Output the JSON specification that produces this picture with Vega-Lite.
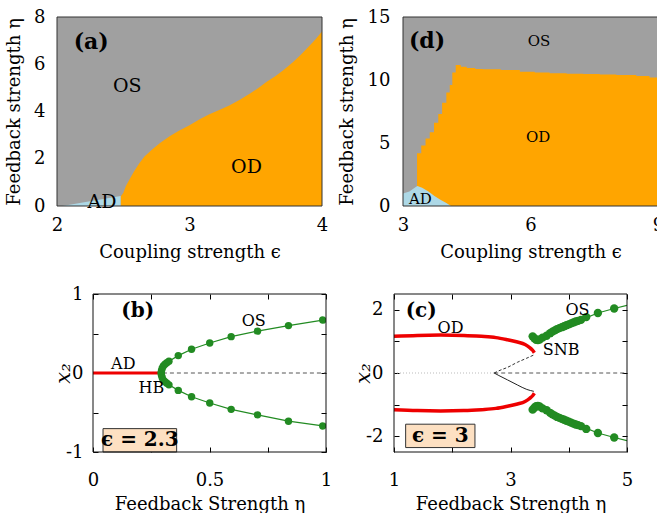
{
  "$schema": "https://vega.github.io/schema/vega-lite/v6.json",
  "padding": {"top": 8, "left": 5, "right": 0, "bottom": 0},
  "background": "white",
  "config": {
    "font": "DejaVu Serif",
    "view": {"stroke": null},
    "axis": {
      "grid": false,
      "domain": false,
      "labelFont": "DejaVu Serif",
      "titleFont": "DejaVu Serif",
      "labelFontSize": 18,
      "titleFontSize": 18,
      "titleFontWeight": "normal",
      "labelColor": "#000",
      "titleColor": "#000",
      "tickColor": "#000",
      "labelFlush": false,
      "labelOverlap": false,
      "labelBound": false,
      "format": "~g"
    },
    "text": {"font": "DejaVu Serif", "color": "#000"}
  },
  "datasets": {
    "a_frame": [{"eps": 2, "eps2": 4, "eta": 0, "eta2": 8}],
    "a_od": [
      {"eps": 2.48, "eta": 0.40}, {"eps": 2.50, "eta": 0.55}, {"eps": 2.52, "eta": 0.85},
      {"eps": 2.55, "eta": 1.15}, {"eps": 2.58, "eta": 1.45}, {"eps": 2.62, "eta": 1.80},
      {"eps": 2.66, "eta": 2.10}, {"eps": 2.72, "eta": 2.40}, {"eps": 2.78, "eta": 2.68},
      {"eps": 2.85, "eta": 2.95}, {"eps": 2.92, "eta": 3.18}, {"eps": 3.00, "eta": 3.42},
      {"eps": 3.08, "eta": 3.68}, {"eps": 3.15, "eta": 3.88}, {"eps": 3.22, "eta": 4.05},
      {"eps": 3.30, "eta": 4.25}, {"eps": 3.38, "eta": 4.50}, {"eps": 3.46, "eta": 4.77},
      {"eps": 3.52, "eta": 5.00}, {"eps": 3.58, "eta": 5.25}, {"eps": 3.65, "eta": 5.50},
      {"eps": 3.71, "eta": 5.76}, {"eps": 3.78, "eta": 6.08}, {"eps": 3.84, "eta": 6.40},
      {"eps": 3.90, "eta": 6.75}, {"eps": 3.95, "eta": 7.05}, {"eps": 4.00, "eta": 7.39}
    ],
    "a_ad": [{"eps": 2.04, "eta": 0}, {"eps": 2.48, "eta": 0.42}],
    "a_tag": [{"label": "(a)", "eps": 2.126, "eta": 6.94}],
    "a_lab": [
      {"label": "OS", "eps": 2.53, "eta": 5.1},
      {"label": "OD", "eps": 3.43, "eta": 1.66},
      {"label": "AD", "eps": 2.34, "eta": 0.17}
    ],
    "d_frame": [{"eps": 3, "eps2": 9, "eta": 0, "eta2": 15}],
    "d_od": [
      {"eps": 3.33, "eta": 4.18}, {"eps": 3.43, "eta": 4.8}, {"eps": 3.53, "eta": 5.35},
      {"eps": 3.63, "eta": 5.85}, {"eps": 3.73, "eta": 6.6}, {"eps": 3.83, "eta": 7.3},
      {"eps": 3.92, "eta": 8.2}, {"eps": 4.02, "eta": 9.0}, {"eps": 4.10, "eta": 9.6},
      {"eps": 4.16, "eta": 10.6}, {"eps": 4.24, "eta": 11.2}, {"eps": 4.36, "eta": 11.05},
      {"eps": 4.50, "eta": 10.95}, {"eps": 4.70, "eta": 10.88}, {"eps": 4.88, "eta": 10.85},
      {"eps": 5.30, "eta": 10.8}, {"eps": 5.75, "eta": 10.66}, {"eps": 6.10, "eta": 10.6},
      {"eps": 6.45, "eta": 10.53}, {"eps": 6.85, "eta": 10.5}, {"eps": 7.24, "eta": 10.48},
      {"eps": 7.63, "eta": 10.44}, {"eps": 8.02, "eta": 10.4}, {"eps": 8.49, "eta": 10.32},
      {"eps": 8.80, "eta": 10.2}, {"eps": 9.0, "eta": 10.13}
    ],
    "d_ad": [
      {"eps": 3.0, "eta": 1.0}, {"eps": 3.15, "eta": 1.15}, {"eps": 3.30, "eta": 1.5},
      {"eps": 3.34, "eta": 1.59}, {"eps": 3.45, "eta": 1.45}, {"eps": 3.6, "eta": 1.15},
      {"eps": 3.74, "eta": 0.8}, {"eps": 3.88, "eta": 0.5}, {"eps": 4.01, "eta": 0.26},
      {"eps": 4.13, "eta": 0.0}
    ],
    "d_tag": [{"label": "(d)", "eps": 3.14, "eta": 13.06}],
    "d_lab": [
      {"label": "OS", "eps": 6.2, "eta": 13.1},
      {"label": "OD", "eps": 6.18, "eta": 5.44},
      {"label": "AD", "eps": 3.41, "eta": 0.53}
    ],
    "b_frame": [{"eta": 0, "eta2": 1, "x2": -1, "x2b": 1}],
    "b_os": [
      {"branch": "upper", "eta": 0.293, "x2": 0.0},
      {"branch": "upper", "eta": 0.294, "x2": 0.03}, {"branch": "upper", "eta": 0.297, "x2": 0.06},
      {"branch": "upper", "eta": 0.302, "x2": 0.09}, {"branch": "upper", "eta": 0.309, "x2": 0.11},
      {"branch": "upper", "eta": 0.317, "x2": 0.13}, {"branch": "upper", "eta": 0.326, "x2": 0.15},
      {"branch": "upper", "eta": 0.366, "x2": 0.22}, {"branch": "upper", "eta": 0.423, "x2": 0.30},
      {"branch": "upper", "eta": 0.501, "x2": 0.38}, {"branch": "upper", "eta": 0.593, "x2": 0.46},
      {"branch": "upper", "eta": 0.706, "x2": 0.53}, {"branch": "upper", "eta": 0.839, "x2": 0.60},
      {"branch": "upper", "eta": 0.986, "x2": 0.67},
      {"branch": "lower", "eta": 0.293, "x2": 0.0},
      {"branch": "lower", "eta": 0.294, "x2": -0.03}, {"branch": "lower", "eta": 0.297, "x2": -0.06},
      {"branch": "lower", "eta": 0.302, "x2": -0.09}, {"branch": "lower", "eta": 0.309, "x2": -0.11},
      {"branch": "lower", "eta": 0.317, "x2": -0.13}, {"branch": "lower", "eta": 0.326, "x2": -0.15},
      {"branch": "lower", "eta": 0.366, "x2": -0.22}, {"branch": "lower", "eta": 0.423, "x2": -0.30},
      {"branch": "lower", "eta": 0.501, "x2": -0.38}, {"branch": "lower", "eta": 0.593, "x2": -0.46},
      {"branch": "lower", "eta": 0.706, "x2": -0.53}, {"branch": "lower", "eta": 0.839, "x2": -0.61},
      {"branch": "lower", "eta": 0.986, "x2": -0.67}
    ],
    "b_osline": [
      {"branch": "upper", "eta": 0.293, "x2": 0.0}, {"branch": "upper", "eta": 0.297, "x2": 0.06},
      {"branch": "upper", "eta": 0.309, "x2": 0.11}, {"branch": "upper", "eta": 0.326, "x2": 0.15},
      {"branch": "upper", "eta": 0.366, "x2": 0.22}, {"branch": "upper", "eta": 0.423, "x2": 0.30},
      {"branch": "upper", "eta": 0.501, "x2": 0.38}, {"branch": "upper", "eta": 0.593, "x2": 0.46},
      {"branch": "upper", "eta": 0.706, "x2": 0.53}, {"branch": "upper", "eta": 0.839, "x2": 0.60},
      {"branch": "upper", "eta": 0.986, "x2": 0.67}, {"branch": "upper", "eta": 1.0, "x2": 0.675},
      {"branch": "lower", "eta": 0.293, "x2": 0.0}, {"branch": "lower", "eta": 0.297, "x2": -0.06},
      {"branch": "lower", "eta": 0.309, "x2": -0.11}, {"branch": "lower", "eta": 0.326, "x2": -0.15},
      {"branch": "lower", "eta": 0.366, "x2": -0.22}, {"branch": "lower", "eta": 0.423, "x2": -0.30},
      {"branch": "lower", "eta": 0.501, "x2": -0.38}, {"branch": "lower", "eta": 0.593, "x2": -0.46},
      {"branch": "lower", "eta": 0.706, "x2": -0.53}, {"branch": "lower", "eta": 0.839, "x2": -0.61},
      {"branch": "lower", "eta": 0.986, "x2": -0.67}, {"branch": "lower", "eta": 1.0, "x2": -0.675}
    ],
    "b_box": [{"eta": 0.043, "eta2": 0.359, "x2": -1.0, "x2b": -0.704}],
    "b_boxtext": [{"label": "ϵ = 2.3", "eta": 0.201, "x2": -0.852}],
    "b_zero": [{"eta": 0.3, "x2": 0}, {"eta": 1.0, "x2": 0}],
    "b_ad": [{"eta": 0.0, "x2": 0}, {"eta": 0.295, "x2": 0}],
    "b_tag": [{"label": "(b)", "eta": 0.121, "x2": 0.79}],
    "b_lab": [
      {"label": "OS", "eta": 0.69, "x2": 0.66},
      {"label": "AD", "eta": 0.13, "x2": 0.11},
      {"label": "HB", "eta": 0.251, "x2": -0.184}
    ],
    "c_frame": [{"eta": 1, "eta2": 5, "x2": -2.5, "x2b": 2.5}],
    "c_od": [
      {"branch": "upper", "eta": 1.0, "x2": 1.16}, {"branch": "upper", "eta": 1.4, "x2": 1.19},
      {"branch": "upper", "eta": 1.8, "x2": 1.2}, {"branch": "upper", "eta": 2.2, "x2": 1.19},
      {"branch": "upper", "eta": 2.5, "x2": 1.16}, {"branch": "upper", "eta": 2.75, "x2": 1.12},
      {"branch": "upper", "eta": 2.95, "x2": 1.05}, {"branch": "upper", "eta": 3.12, "x2": 0.98},
      {"branch": "upper", "eta": 3.25, "x2": 0.9}, {"branch": "upper", "eta": 3.33, "x2": 0.8},
      {"branch": "upper", "eta": 3.38, "x2": 0.72}, {"branch": "upper", "eta": 3.41, "x2": 0.64},
      {"branch": "lower", "eta": 1.0, "x2": -1.16}, {"branch": "lower", "eta": 1.4, "x2": -1.19},
      {"branch": "lower", "eta": 1.8, "x2": -1.2}, {"branch": "lower", "eta": 2.2, "x2": -1.19},
      {"branch": "lower", "eta": 2.5, "x2": -1.16}, {"branch": "lower", "eta": 2.75, "x2": -1.12},
      {"branch": "lower", "eta": 2.95, "x2": -1.05}, {"branch": "lower", "eta": 3.12, "x2": -0.98},
      {"branch": "lower", "eta": 3.25, "x2": -0.9}, {"branch": "lower", "eta": 3.33, "x2": -0.8},
      {"branch": "lower", "eta": 3.38, "x2": -0.72}, {"branch": "lower", "eta": 3.41, "x2": -0.64}
    ],
    "c_unstable_up": [
      {"eta": 2.72, "x2": 0}, {"eta": 2.8, "x2": 0.07}, {"eta": 2.95, "x2": 0.18},
      {"eta": 3.12, "x2": 0.34}, {"eta": 3.28, "x2": 0.47}, {"eta": 3.40, "x2": 0.57}
    ],
    "c_unstable_lo": [
      {"eta": 2.72, "x2": 0}, {"eta": 2.8, "x2": -0.08}, {"eta": 2.95, "x2": -0.22},
      {"eta": 3.12, "x2": -0.38}, {"eta": 3.28, "x2": -0.52}, {"eta": 3.40, "x2": -0.58}
    ],
    "c_os": [
      {"branch": "upper", "eta": 3.38, "x2": 1.16}, {"branch": "upper", "eta": 3.41, "x2": 1.10},
      {"branch": "upper", "eta": 3.44, "x2": 1.05}, {"branch": "upper", "eta": 3.47, "x2": 1.04},
      {"branch": "upper", "eta": 3.50, "x2": 1.06}, {"branch": "upper", "eta": 3.55, "x2": 1.12},
      {"branch": "upper", "eta": 3.62, "x2": 1.18}, {"branch": "upper", "eta": 3.68, "x2": 1.26},
      {"branch": "upper", "eta": 3.72, "x2": 1.31}, {"branch": "upper", "eta": 3.76, "x2": 1.35},
      {"branch": "upper", "eta": 3.80, "x2": 1.39}, {"branch": "upper", "eta": 3.84, "x2": 1.42},
      {"branch": "upper", "eta": 3.88, "x2": 1.45}, {"branch": "upper", "eta": 3.92, "x2": 1.48},
      {"branch": "upper", "eta": 3.96, "x2": 1.51}, {"branch": "upper", "eta": 4.00, "x2": 1.54},
      {"branch": "upper", "eta": 4.04, "x2": 1.57}, {"branch": "upper", "eta": 4.08, "x2": 1.60},
      {"branch": "upper", "eta": 4.12, "x2": 1.63}, {"branch": "upper", "eta": 4.16, "x2": 1.65},
      {"branch": "upper", "eta": 4.21, "x2": 1.68}, {"branch": "upper", "eta": 4.30, "x2": 1.77},
      {"branch": "upper", "eta": 4.50, "x2": 1.90}, {"branch": "upper", "eta": 4.78, "x2": 2.04},
      {"branch": "lower", "eta": 3.38, "x2": -1.16}, {"branch": "lower", "eta": 3.41, "x2": -1.10},
      {"branch": "lower", "eta": 3.44, "x2": -1.05}, {"branch": "lower", "eta": 3.47, "x2": -1.04},
      {"branch": "lower", "eta": 3.50, "x2": -1.06}, {"branch": "lower", "eta": 3.55, "x2": -1.12},
      {"branch": "lower", "eta": 3.62, "x2": -1.18}, {"branch": "lower", "eta": 3.68, "x2": -1.26},
      {"branch": "lower", "eta": 3.72, "x2": -1.31}, {"branch": "lower", "eta": 3.76, "x2": -1.35},
      {"branch": "lower", "eta": 3.80, "x2": -1.39}, {"branch": "lower", "eta": 3.84, "x2": -1.42},
      {"branch": "lower", "eta": 3.88, "x2": -1.45}, {"branch": "lower", "eta": 3.92, "x2": -1.48},
      {"branch": "lower", "eta": 3.96, "x2": -1.51}, {"branch": "lower", "eta": 4.00, "x2": -1.54},
      {"branch": "lower", "eta": 4.04, "x2": -1.57}, {"branch": "lower", "eta": 4.08, "x2": -1.60},
      {"branch": "lower", "eta": 4.12, "x2": -1.63}, {"branch": "lower", "eta": 4.16, "x2": -1.65},
      {"branch": "lower", "eta": 4.21, "x2": -1.68}, {"branch": "lower", "eta": 4.30, "x2": -1.77},
      {"branch": "lower", "eta": 4.50, "x2": -1.90}, {"branch": "lower", "eta": 4.78, "x2": -2.04}
    ],
    "c_osline": [
      {"branch": "upper", "eta": 3.38, "x2": 1.16}, {"branch": "upper", "eta": 3.44, "x2": 1.05},
      {"branch": "upper", "eta": 3.50, "x2": 1.06}, {"branch": "upper", "eta": 3.62, "x2": 1.18},
      {"branch": "upper", "eta": 3.80, "x2": 1.39}, {"branch": "upper", "eta": 4.00, "x2": 1.54},
      {"branch": "upper", "eta": 4.21, "x2": 1.68}, {"branch": "upper", "eta": 4.50, "x2": 1.90},
      {"branch": "upper", "eta": 4.78, "x2": 2.04}, {"branch": "upper", "eta": 5.0, "x2": 2.14},
      {"branch": "lower", "eta": 3.38, "x2": -1.16}, {"branch": "lower", "eta": 3.44, "x2": -1.05},
      {"branch": "lower", "eta": 3.50, "x2": -1.06}, {"branch": "lower", "eta": 3.62, "x2": -1.18},
      {"branch": "lower", "eta": 3.80, "x2": -1.39}, {"branch": "lower", "eta": 4.00, "x2": -1.54},
      {"branch": "lower", "eta": 4.21, "x2": -1.68}, {"branch": "lower", "eta": 4.50, "x2": -1.90},
      {"branch": "lower", "eta": 4.78, "x2": -2.04}, {"branch": "lower", "eta": 5.0, "x2": -2.14}
    ],
    "c_box": [{"eta": 1.2, "eta2": 2.39, "x2": -2.36, "x2b": -1.62}],
    "c_boxtext": [{"label": "ϵ = 3", "eta": 1.795, "x2": -1.99}],
    "c_zero_left": [{"eta": 1.0, "x2": 0}, {"eta": 2.72, "x2": 0}],
    "c_zero_right": [{"eta": 2.72, "x2": 0}, {"eta": 5.0, "x2": 0}],
    "c_tag": [{"label": "(c)", "eta": 1.2, "x2": 1.96}],
    "c_lab": [
      {"label": "OD", "eta": 1.97, "x2": 1.43},
      {"label": "OS", "eta": 4.15, "x2": 1.98},
      {"label": "SNB", "eta": 3.87, "x2": 0.72}
    ]
  },
  "spacing": 24,
  "vconcat": [
    {
      "spacing": 10,
      "hconcat": [
        {
          "width": 265,
          "height": 189,
          "resolve": {"axis": {"x": "independent", "y": "independent"}},
          "layer": [
            {
              "data": {"name": "a_frame"},
              "mark": {"type": "rect", "color": "#a0a0a0"},
              "encoding": {
                "x": {"field": "eps", "type": "quantitative",
                      "scale": {"domain": [2, 4], "nice": false, "zero": false},
                      "axis": {"values": [2, 3, 4], "title": "Coupling strength ϵ", "ticks": false, "labelPadding": 10, "titlePadding": 9}},
                "x2": {"field": "eps2"},
                "y": {"field": "eta", "type": "quantitative",
                      "scale": {"domain": [0, 8], "nice": false, "zero": false},
                      "axis": {"values": [0, 2, 4, 6, 8], "title": "Feedback strength η", "ticks": false, "labelPadding": 12, "minExtent": 24, "maxExtent": 24, "titlePadding": 10}},
                "y2": {"field": "eta2"}
              }
            },
            {
              "data": {"name": "a_od"},
              "mark": {"type": "area", "color": "#ffa500", "clip": true},
              "encoding": {
                "x": {"field": "eps", "type": "quantitative", "axis": null},
                "y": {"field": "eta", "type": "quantitative", "axis": null},
                "y2": {"datum": 0}
              }
            },
            {
              "data": {"name": "a_ad"},
              "mark": {"type": "area", "color": "#add8e6", "clip": true},
              "encoding": {
                "x": {"field": "eps", "type": "quantitative", "axis": null},
                "y": {"field": "eta", "type": "quantitative", "axis": null},
                "y2": {"datum": 0}
              }
            },
            {
              "data": {"name": "a_frame"},
              "mark": {"type": "rect", "fill": null, "filled": false, "stroke": "#333", "strokeWidth": 1},
              "encoding": {
                "x": {"field": "eps", "type": "quantitative", "axis": null},
                "x2": {"field": "eps2"},
                "y": {"field": "eta", "type": "quantitative", "axis": null},
                "y2": {"field": "eta2"}
              }
            },
            {
              "data": {"name": "a_tag"},
              "mark": {"type": "text", "fontSize": 22, "fontWeight": "bold", "align": "left", "baseline": "middle"},
              "encoding": {
                "x": {"field": "eps", "type": "quantitative", "axis": null},
                "y": {"field": "eta", "type": "quantitative", "axis": null},
                "text": {"field": "label"}
              }
            },
            {
              "data": {"name": "a_lab"},
              "mark": {"type": "text", "fontSize": 19, "baseline": "middle"},
              "encoding": {
                "x": {"field": "eps", "type": "quantitative", "axis": null},
                "y": {"field": "eta", "type": "quantitative", "axis": null},
                "text": {"field": "label"}
              }
            }
          ]
        },
        {
          "width": 255,
          "height": 189,
          "resolve": {"axis": {"x": "independent", "y": "independent"}},
          "layer": [
            {
              "data": {"name": "d_frame"},
              "mark": {"type": "rect", "color": "#a0a0a0"},
              "encoding": {
                "x": {"field": "eps", "type": "quantitative",
                      "scale": {"domain": [3, 9], "nice": false, "zero": false},
                      "axis": {"values": [3, 6, 9], "title": "Coupling strength ϵ", "ticks": false, "labelPadding": 10, "titlePadding": 9}},
                "x2": {"field": "eps2"},
                "y": {"field": "eta", "type": "quantitative",
                      "scale": {"domain": [0, 15], "nice": false, "zero": false},
                      "axis": {"values": [0, 5, 10, 15], "title": "Feedback strength η", "ticks": false, "labelPadding": 13, "minExtent": 35, "maxExtent": 35, "titlePadding": 12}},
                "y2": {"field": "eta2"}
              }
            },
            {
              "data": {"name": "d_od"},
              "mark": {"type": "area", "color": "#ffa500", "interpolate": "step-after", "clip": true},
              "encoding": {
                "x": {"field": "eps", "type": "quantitative", "axis": null},
                "y": {"field": "eta", "type": "quantitative", "axis": null},
                "y2": {"datum": 0}
              }
            },
            {
              "data": {"name": "d_ad"},
              "mark": {"type": "area", "color": "#add8e6", "clip": true},
              "encoding": {
                "x": {"field": "eps", "type": "quantitative", "axis": null},
                "y": {"field": "eta", "type": "quantitative", "axis": null},
                "y2": {"datum": 0}
              }
            },
            {
              "data": {"name": "d_frame"},
              "mark": {"type": "rect", "fill": null, "filled": false, "stroke": "#333", "strokeWidth": 1},
              "encoding": {
                "x": {"field": "eps", "type": "quantitative", "axis": null},
                "x2": {"field": "eps2"},
                "y": {"field": "eta", "type": "quantitative", "axis": null},
                "y2": {"field": "eta2"}
              }
            },
            {
              "data": {"name": "d_tag"},
              "mark": {"type": "text", "fontSize": 22, "fontWeight": "bold", "align": "left", "baseline": "middle"},
              "encoding": {
                "x": {"field": "eps", "type": "quantitative", "axis": null},
                "y": {"field": "eta", "type": "quantitative", "axis": null},
                "text": {"field": "label"}
              }
            },
            {
              "data": {"name": "d_lab"},
              "mark": {"type": "text", "fontSize": 15, "baseline": "middle"},
              "encoding": {
                "x": {"field": "eps", "type": "quantitative", "axis": null},
                "y": {"field": "eta", "type": "quantitative", "axis": null},
                "text": {"field": "label"}
              }
            }
          ]
        }
      ]
    },
    {
      "spacing": 20,
      "hconcat": [
        {
          "spacing": -6,
          "hconcat": [
            {
              "width": 1,
              "height": 1,
              "data": {"values": []},
              "mark": "point"
            },
            {
              "width": 233,
              "height": 158,
              "resolve": {"axis": {"x": "independent", "y": "independent"}},
              "layer": [
                {
                  "data": {"name": "b_box"},
                  "mark": {"type": "rect", "fill": "#fde0c2", "stroke": "#333", "strokeWidth": 1},
                  "encoding": {
                    "x": {"field": "eta", "type": "quantitative",
                          "scale": {"domain": [0, 1], "nice": false, "zero": false},
                          "axis": {"values": [0, 0.25, 0.5, 0.75, 1],
                                   "labelExpr": "datum.value == 0.25 || datum.value == 0.75 ? '' : replace(datum.label, '−', '-')",
                                   "title": "Feedback Strength η", "tickSize": -5, "labelPadding": 24, "titlePadding": 6}},
                    "x2": {"field": "eta2"},
                    "y": {"field": "x2", "type": "quantitative",
                          "scale": {"domain": [-1, 1], "nice": false, "zero": false},
                          "axis": {"values": [-1, -0.5, 0, 0.5, 1],
                                   "labelExpr": "datum.value == 0.5 || datum.value == -0.5 ? '' : replace(datum.label, '−', '-')",
                                   "title": "x₂", "titleFontStyle": "italic", "titleFontSize": 21,
                                   "tickSize": -5, "labelPadding": 15, "minExtent": 15, "maxExtent": 15, "titlePadding": 5}},
                    "y2": {"field": "x2b"}
                  }
                },
                {
                  "data": {"name": "b_boxtext"},
                  "mark": {"type": "text", "fontSize": 20, "fontWeight": "bold", "baseline": "middle"},
                  "encoding": {
                    "x": {"field": "eta", "type": "quantitative", "axis": null},
                    "y": {"field": "x2", "type": "quantitative", "axis": null},
                    "text": {"field": "label"}
                  }
                },
                {
                  "data": {"name": "b_zero"},
                  "mark": {"type": "line", "color": "#555", "strokeWidth": 1, "strokeDash": [4, 3]},
                  "encoding": {
                    "x": {"field": "eta", "type": "quantitative",
                          "axis": {"orient": "top", "values": [0, 0.25, 0.5, 0.75, 1], "labels": false, "title": null, "tickSize": -5}},
                    "y": {"field": "x2", "type": "quantitative",
                          "axis": {"orient": "right", "values": [-1, -0.5, 0, 0.5, 1], "labels": false, "title": null, "tickSize": -5}}
                  }
                },
                {
                  "data": {"name": "b_ad"},
                  "mark": {"type": "line", "color": "#ee0000", "strokeWidth": 3},
                  "encoding": {
                    "x": {"field": "eta", "type": "quantitative", "axis": null},
                    "y": {"field": "x2", "type": "quantitative", "axis": null}
                  }
                },
                {
                  "data": {"name": "b_osline"},
                  "mark": {"type": "line", "color": "#228b22", "strokeWidth": 1.2, "clip": true},
                  "encoding": {
                    "x": {"field": "eta", "type": "quantitative", "axis": null},
                    "y": {"field": "x2", "type": "quantitative", "axis": null},
                    "detail": {"field": "branch"}
                  }
                },
                {
                  "data": {"name": "b_os"},
                  "mark": {"type": "circle", "color": "#228b22", "size": 55, "opacity": 1, "clip": true},
                  "encoding": {
                    "x": {"field": "eta", "type": "quantitative", "axis": null},
                    "y": {"field": "x2", "type": "quantitative", "axis": null}
                  }
                },
                {
                  "data": {"name": "b_frame"},
                  "mark": {"type": "rect", "fill": null, "filled": false, "stroke": "#111", "strokeWidth": 1},
                  "encoding": {
                    "x": {"field": "eta", "type": "quantitative", "axis": null},
                    "x2": {"field": "eta2"},
                    "y": {"field": "x2", "type": "quantitative", "axis": null},
                    "y2": {"field": "x2b"}
                  }
                },
                {
                  "data": {"name": "b_tag"},
                  "mark": {"type": "text", "fontSize": 20, "fontWeight": "bold", "align": "left", "baseline": "middle"},
                  "encoding": {
                    "x": {"field": "eta", "type": "quantitative", "axis": null},
                    "y": {"field": "x2", "type": "quantitative", "axis": null},
                    "text": {"field": "label"}
                  }
                },
                {
                  "data": {"name": "b_lab"},
                  "mark": {"type": "text", "fontSize": 16, "baseline": "middle"},
                  "encoding": {
                    "x": {"field": "eta", "type": "quantitative", "axis": null},
                    "y": {"field": "x2", "type": "quantitative", "axis": null},
                    "text": {"field": "label"}
                  }
                }
              ]
            }
          ]
        },
        {
          "width": 233,
          "height": 158,
          "resolve": {"axis": {"x": "independent", "y": "independent"}},
          "layer": [
            {
              "data": {"name": "c_box"},
              "mark": {"type": "rect", "fill": "#fde0c2", "stroke": "#333", "strokeWidth": 1},
              "encoding": {
                "x": {"field": "eta", "type": "quantitative",
                      "scale": {"domain": [1, 5], "nice": false, "zero": false},
                      "axis": {"values": [1, 2, 3, 4, 5],
                               "labelExpr": "datum.value == 2 || datum.value == 4 ? '' : datum.label",
                               "title": "Feedback Strength η", "tickSize": -5, "labelPadding": 24, "titlePadding": 6}},
                "x2": {"field": "eta2"},
                "y": {"field": "x2", "type": "quantitative",
                      "scale": {"domain": [-2.5, 2.5], "nice": false, "zero": false},
                      "axis": {"values": [-2, -1, 0, 1, 2],
                               "labelExpr": "datum.value == 1 || datum.value == -1 ? '' : replace(datum.label, '−', '-')",
                               "title": "x₂", "titleFontStyle": "italic", "titleFontSize": 21,
                               "tickSize": -5, "labelPadding": 16, "minExtent": 16, "maxExtent": 16, "titlePadding": 5}},
                "y2": {"field": "x2b"}
              }
            },
            {
              "data": {"name": "c_boxtext"},
              "mark": {"type": "text", "fontSize": 20, "fontWeight": "bold", "baseline": "middle"},
              "encoding": {
                "x": {"field": "eta", "type": "quantitative", "axis": null},
                "y": {"field": "x2", "type": "quantitative", "axis": null},
                "text": {"field": "label"}
              }
            },
            {
              "data": {"name": "c_zero_left"},
              "mark": {"type": "line", "color": "#bbbbbb", "strokeWidth": 1, "strokeDash": [1, 2]},
              "encoding": {
                "x": {"field": "eta", "type": "quantitative",
                      "axis": {"orient": "top", "values": [1, 2, 3, 4, 5], "labels": false, "title": null, "tickSize": -5}},
                "y": {"field": "x2", "type": "quantitative",
                      "axis": {"orient": "right", "values": [-2, -1, 0, 1, 2], "labels": false, "title": null, "tickSize": -5}}
              }
            },
            {
              "data": {"name": "c_zero_right"},
              "mark": {"type": "line", "color": "#555", "strokeWidth": 1, "strokeDash": [4, 3]},
              "encoding": {
                "x": {"field": "eta", "type": "quantitative", "axis": null},
                "y": {"field": "x2", "type": "quantitative", "axis": null}
              }
            },
            {
              "data": {"name": "c_unstable_up"},
              "mark": {"type": "line", "color": "#333", "strokeWidth": 1, "strokeDash": [3, 2], "interpolate": "monotone"},
              "encoding": {
                "x": {"field": "eta", "type": "quantitative", "axis": null},
                "y": {"field": "x2", "type": "quantitative", "axis": null}
              }
            },
            {
              "data": {"name": "c_unstable_lo"},
              "mark": {"type": "line", "color": "#222", "strokeWidth": 1, "interpolate": "monotone"},
              "encoding": {
                "x": {"field": "eta", "type": "quantitative", "axis": null},
                "y": {"field": "x2", "type": "quantitative", "axis": null}
              }
            },
            {
              "data": {"name": "c_od"},
              "mark": {"type": "line", "color": "#ee0000", "strokeWidth": 3.5, "interpolate": "monotone"},
              "encoding": {
                "x": {"field": "eta", "type": "quantitative", "axis": null},
                "y": {"field": "x2", "type": "quantitative", "axis": null},
                "detail": {"field": "branch"}
              }
            },
            {
              "data": {"name": "c_osline"},
              "mark": {"type": "line", "color": "#228b22", "strokeWidth": 1.2, "clip": true},
              "encoding": {
                "x": {"field": "eta", "type": "quantitative", "axis": null},
                "y": {"field": "x2", "type": "quantitative", "axis": null},
                "detail": {"field": "branch"}
              }
            },
            {
              "data": {"name": "c_os"},
              "mark": {"type": "circle", "color": "#228b22", "size": 70, "opacity": 1, "clip": true},
              "encoding": {
                "x": {"field": "eta", "type": "quantitative", "axis": null},
                "y": {"field": "x2", "type": "quantitative", "axis": null}
              }
            },
            {
              "data": {"name": "c_frame"},
              "mark": {"type": "rect", "fill": null, "filled": false, "stroke": "#111", "strokeWidth": 1},
              "encoding": {
                "x": {"field": "eta", "type": "quantitative", "axis": null},
                "x2": {"field": "eta2"},
                "y": {"field": "x2", "type": "quantitative", "axis": null},
                "y2": {"field": "x2b"}
              }
            },
            {
              "data": {"name": "c_tag"},
              "mark": {"type": "text", "fontSize": 20, "fontWeight": "bold", "align": "left", "baseline": "middle"},
              "encoding": {
                "x": {"field": "eta", "type": "quantitative", "axis": null},
                "y": {"field": "x2", "type": "quantitative", "axis": null},
                "text": {"field": "label"}
              }
            },
            {
              "data": {"name": "c_lab"},
              "mark": {"type": "text", "fontSize": 16, "baseline": "middle"},
              "encoding": {
                "x": {"field": "eta", "type": "quantitative", "axis": null},
                "y": {"field": "x2", "type": "quantitative", "axis": null},
                "text": {"field": "label"}
              }
            }
          ]
        }
      ]
    }
  ]
}
